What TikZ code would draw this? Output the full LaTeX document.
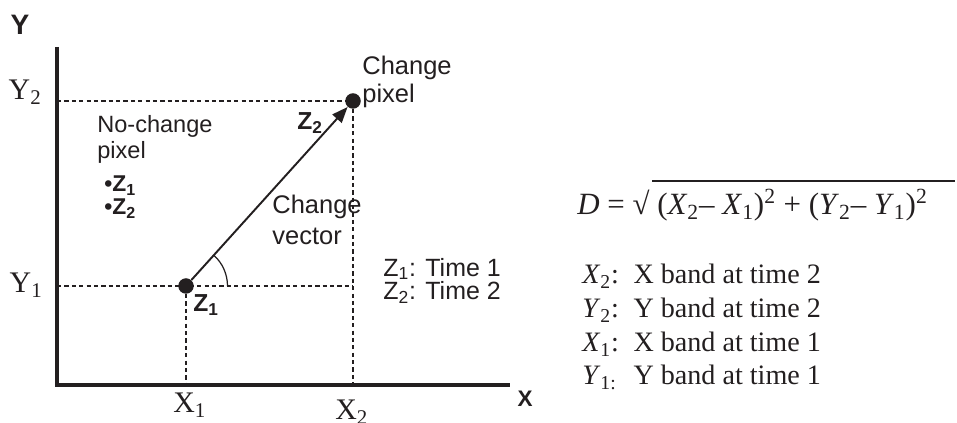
\documentclass[tikz,border=0pt]{standalone}
\usepackage{fontspec}
\setmainfont{Liberation Serif}
\setsansfont{Liberation Sans}
\usepackage{xcolor}
\usetikzlibrary{calc, arrows.meta, positioning}

\definecolor{ink}{RGB}{35,31,32}
\newcommand{\bandrow}[2]{\makebox[1.82em][l]{#1}#2}

\tikzset{
    axisline/.style={line width=2.3pt, draw=ink, line join=miter},
    guide/.style={draw=ink, line width=0.6pt, dash pattern=on 2.4pt off 1.8pt},
    pix/.style={circle, fill=ink, inner sep=0pt, minimum size=0.31cm},
    sanslbl/.style={font=\sffamily\fontsize{14.5}{16.4}\selectfont, text=ink, inner sep=0pt, align=left},
    zlbl/.style={font=\sffamily\bfseries\fontsize{14}{16}\selectfont, text=ink, inner sep=0pt},
    axlbl/.style={font=\fontsize{17}{20}\selectfont, text=ink, inner sep=0pt},
    leglbl/.style={font=\fontsize{16}{19}\selectfont, text=ink, inner sep=0pt, anchor=base west}
}

\begin{document}
\begin{tikzpicture}[>={Triangle[length=9pt,width=7pt]}]
    \useasboundingbox (0,0) rectangle (19.14,8.46);

    % Axes
    \coordinate (O) at (1.14,0.76);
    \coordinate (ytop) at (1.14,7.52);
    \coordinate (xend) at (10.2,0.76);
    \draw[axisline] (ytop) -- (O) -- (xend);
    \node[font=\sffamily\bfseries\fontsize{16}{19}\selectfont, text=ink, inner sep=0pt, anchor=base] (ylab) at (0.40,7.76) {Y};
    \node[font=\sffamily\bfseries\fontsize{12.8}{15}\selectfont, text=ink, inner sep=0pt, anchor=base] (xlab) at (10.5,0.32) {X};

    % Pixels at time 1 and time 2
    \node[pix] (z1) at (3.72,2.74) {};
    \node[pix] (z2) at (7.06,6.44) {};

    % Guide lines to the axes
    \draw[guide] (O |- z2) -- (z2);
    \draw[guide] (z2) -- (z2 |- O);
    \draw[guide] (O |- z1) -- (z2 |- z1);
    \draw[guide] (z1) -- (z1 |- O);

    % Change vector and angle
    \draw[->, draw=ink, line width=1.1pt] (z1) -- (z2);
    \draw[draw=ink, line width=0.7pt] ([shift={(0:0.83)}]z1.center) arc (0:48:0.83);

    % Axis values
    \node[axlbl, anchor=base east] (y2lab) at (0.84,6.46) {Y\textsubscript{2}};
    \node[axlbl, anchor=base east] (y1lab) at (0.86,2.60) {Y\textsubscript{1}};
    \node[axlbl, anchor=base west] (x1lab) at (3.46,0.20) {X\textsubscript{1}};
    \node[axlbl, anchor=base west] (x2lab) at (6.70,0.06) {X\textsubscript{2}};

    % Labels inside the plot (base = last line)
    \node[zlbl, anchor=base west] (z1lab) at (3.86,2.22) {Z\textsubscript{1}};
    \node[zlbl, anchor=base west] (z2lab) at (5.94,5.86) {Z\textsubscript{2}};
    \node[sanslbl, anchor=base west] (chpix) at (7.24,6.40) {Change\\pixel};
    \node[sanslbl, font=\sffamily\fontsize{14.5}{18}\selectfont, anchor=base west] (chvec) at (5.44,3.56) {Change\\vector};
    \node[sanslbl, font=\sffamily\fontsize{13.4}{15.3}\selectfont, anchor=base west] (nochg) at (1.94,5.28) {No-change\\pixel};
    \node[zlbl, font=\sffamily\bfseries\fontsize{13}{14}\selectfont, anchor=base west] (nz1) at (2.08,4.62) {\textbullet Z\textsubscript{1}};
    \node[zlbl, font=\sffamily\bfseries\fontsize{13}{14}\selectfont, anchor=base west] (nz2) at (2.08,4.16) {\textbullet Z\textsubscript{2}};
    \node[sanslbl, font=\sffamily\fontsize{14.2}{13.6}\selectfont, anchor=base west] (times) at (7.66,2.46)
        {Z\textsubscript{1}: Time 1\\Z\textsubscript{2}: Time 2};

    % Distance formula
    \node[font=\fontsize{17.6}{21}\selectfont, text=ink, inner sep=0pt, anchor=base west] (dist) at (11.54,4.16)
        {\textit{D} = √ (\textit{X}\textsubscript{2}– \textit{X}\textsubscript{1})\textsuperscript{2} + (\textit{Y}\textsubscript{2}– \textit{Y}\textsubscript{1})\textsuperscript{2}};
    \draw[draw=ink, line width=0.8pt] (13.04,4.84) -- (19.10,4.84);

    % Legend
    \node[leglbl] (legx2) at (11.64,2.78) {\bandrow{\textit{X}\textsubscript{2}:}{X band at time 2}};
    \node[leglbl] (legy2) at (11.64,2.10) {\bandrow{\textit{Y}\textsubscript{2}:}{Y band at time 2}};
    \node[leglbl] (legx1) at (11.64,1.42) {\bandrow{\textit{X}\textsubscript{1}:}{X band at time 1}};
    \node[leglbl] (legy1) at (11.64,0.76) {\bandrow{\textit{Y}\textsubscript{1:}}{Y band at time 1}};

\end{tikzpicture}
\end{document}
